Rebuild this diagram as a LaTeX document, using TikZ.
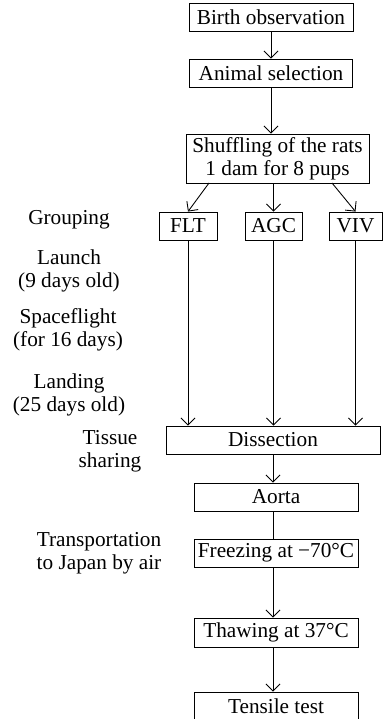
\documentclass[tikz,border=0pt]{standalone}
\usepackage{fontspec}
\setmainfont{Liberation Serif}
\usetikzlibrary{arrows.meta}

\tikzset{
  box/.style={draw, line width=0.5pt, inner sep=0pt, minimum height=0.56cm},
  lbl/.style={align=center, inner sep=0pt},
  arr/.style={line width=0.5pt, -{Straight Barb[length=4pt,width=8pt]}}
}

\begin{document}
\begin{tikzpicture}[x=0.02cm, y=-0.02cm, font=\fontsize{12.1}{13.2}\selectfont]

\clip (0,0) rectangle (383,719);

% main column
\node[box, minimum width=3.28cm] (birth) at (271,17) {Birth observation};
\node[box, minimum width=3.26cm] (select) at (271,73) {Animal selection};
\node[box, minimum width=3.66cm, minimum height=0.98cm, align=center] (shuffle) at (277.5,158.5)
  {Shuffling of the rats\\1 dam for 8 pups};

\node[box, minimum width=1.16cm] (flt) at (188,226) {FLT};
\node[box, minimum width=1.14cm] (agc) at (273.5,226) {AGC};
\node[box, minimum width=1.06cm] (viv) at (355.5,226) {VIV};

\node[box, minimum width=4.28cm] (dissect) at (273,440) {Dissection};
\node[box, minimum width=3.28cm] (aorta) at (276,497) {Aorta};
\node[box, minimum width=3.28cm] (freeze) at (276,553) {Freezing at −70°C};
\node[box, minimum width=3.28cm, minimum height=0.58cm] (thaw) at (276,632.5) {Thawing at 37°C};
\node[box, minimum width=3.28cm] (tensile) at (276,706) {Tensile test};

% left labels
\node[lbl] (grp) at (69,220) {Grouping};
\node[lbl] (launch) at (69,271) {Launch\\(9 days old)};
\node[lbl] (flight) at (68,330) {Spaceflight\\(for 16 days)};
\node[lbl] (land) at (69,395) {Landing\\(25 days old)};
\node[lbl] (tissue) at (110,451) {Tissue\\sharing};
\node[lbl] (transp) at (99,553) {Transportation\\to Japan by air};

\coordinate (sl) at (209,183);
\coordinate (sr) at (332,183);

% connectors
\draw[arr] (birth.south) -- (birth.south |- select.north);
\draw[arr] (select.south) -- (select.south |- shuffle.north);
\draw[arr] (sl) -- (flt.north);
\draw[arr] (agc.north |- shuffle.south) -- (agc.north);
\draw[arr] (sr) -- (viv.north);

\draw[arr] (flt.south) -- (flt.south |- dissect.north);
\draw[arr] (agc.south) -- (agc.south |- dissect.north);
\draw[arr] (viv.south) -- (viv.south |- dissect.north);

\draw[arr] (dissect.south) -- (dissect.south |- aorta.north);
\draw[line width=0.5pt] (dissect.south |- aorta.south) -- (dissect.south |- freeze.north);
\draw[arr] (dissect.south |- freeze.south) -- (dissect.south |- thaw.north);
\draw[arr] (dissect.south |- thaw.south) -- (dissect.south |- tensile.north);

\end{tikzpicture}
\end{document}
